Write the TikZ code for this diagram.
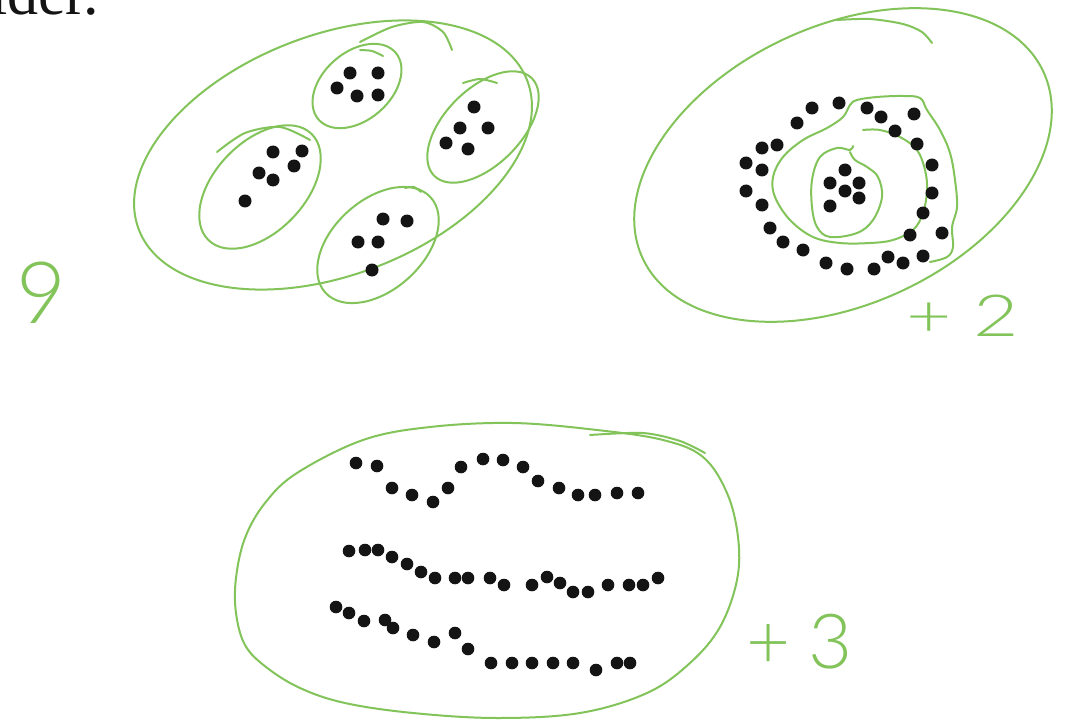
\documentclass[tikz,border=0pt]{standalone}
\usepackage{fontspec}
\setmainfont{Liberation Serif}
\IfFontExistsTF{Lato Light}{\newfontfamily\handfont{Lato Light}}{%
  \IfFontExistsTF{Lato Thin}{\newfontfamily\handfont{Lato Thin}}{%
    \newfontfamily\handfont{Liberation Sans}}}
\definecolor{penGreen}{RGB}{130,195,90}
\definecolor{inkBlack}{RGB}{20,20,20}
\begin{document}
\begin{tikzpicture}[x=1pt,y=-1pt,
  penline/.style={draw=penGreen, line width=2pt, line cap=round, line join=round},
  blob/.style={fill=inkBlack},
  hand/.style={text=penGreen, inner sep=0pt, anchor=base west}]
\useasboundingbox (0,0) rectangle (1086,722);
\fill[white] (0,0) rectangle (1086,722);

% cropped caption text at the top left (cut off in the reference too)
\node[anchor=base west, inner sep=0pt, text=inkBlack, font=\fontsize{62}{70}\selectfont] (caption) at (-10,15) {ider.};

% ---------- figure 1 : four blobs ----------
\draw[penline, rotate around={21:(333,155)}] (333,155) ellipse [x radius=208, y radius=120];
\draw[penline] plot[smooth] coordinates {(360,42) (392,27) (423,22) (443,32) (452,50)};
\draw[penline, rotate around={41:(357,86)}] (357,86) ellipse [x radius=51, y radius=34];
\draw[penline] plot[smooth] coordinates {(360,50) (372,51) (383,56)};
\draw[penline, rotate around={46:(260,187)}] (260,187) ellipse [x radius=74, y radius=45];
\draw[penline] plot[smooth] coordinates {(217,152) (245,133) (280,127) (310,140)};
\draw[penline, rotate around={45:(483,127)}] (483,127) ellipse [x radius=69, y radius=38];
\draw[penline] plot[smooth] coordinates {(463,83) (480,79) (497,83)};
\draw[penline, rotate around={42:(378,245)}] (378,245) ellipse [x radius=71, y radius=45];
\draw[penline] plot[smooth] coordinates {(405,188) (414,187) (421,192)};

\foreach \p in {(350,73),(378,73),(337,88),(357,96),(378,95),
                (273,152),(302,151),(294,166),(259,173),(273,180),(245,201),
                (474,107),(460,128),(488,128),(446,143),(468,149),
                (383,219),(407,221),(358,242),(378,242),(372,270)}
  \fill[blob] \p circle [radius=6.5];

% ---------- figure 2 : rings ----------
\draw[penline, rotate around={25:(843,165)}] (843,165) ellipse [x radius=221, y radius=139];
\draw[penline] plot[smooth] coordinates {(837,20) (870,19) (903,24) (922,32) (932,43)};
\draw[penline] plot[smooth, tension=0.6] coordinates {
  (863,130) (880,130) (900,137) (917,150) (925,170) (927,190) (923,213) (913,230)
  (893,240) (870,243) (840,243) (813,237) (790,220) (775,197) (773,177) (783,157)
  (803,140) (827,128) (843,117) (850,105) (857,100) (877,97) (903,96) (920,98)
  (927,110) (940,130) (950,153) (955,180) (957,207) (952,227) (953,247) (947,257) (930,262)};
\draw[penline] plot[smooth, tension=0.6] coordinates {
  (853,146) (850,150) (837,148) (820,157) (812,180) (812,207) (817,227) (830,237)
  (857,233) (873,220) (882,197) (878,177) (867,167) (855,160) (850,152)};

\foreach \p in {(845,170),(830,183),(859,183),(845,191),(859,198),(830,206),
                (839,103),(812,108),(797,123),(777,145),(762,148),(746,163),(762,170),
                (746,191),(762,205),(770,228),(783,242),(803,250),(826,263),(847,269),
                (874,269),(888,257),(903,263),(923,256),(910,235),(942,233),(923,213),
                (932,193),(932,165),(917,144),(895,131),(881,117),(867,108),(914,114)}
  \fill[blob] \p circle [radius=6.5];

% ---------- figure 3 : three wavy lines ----------
\draw[penline] plot[smooth cycle, tension=0.6] coordinates {
  (236,578) (245,538) (265,503) (297,473) (363,440) (430,427) (513,423) (597,430)
  (663,440) (703,457) (727,493) (738,537) (737,580) (720,627) (690,663) (647,693)
  (580,713) (497,718) (413,713) (345,703) (300,688) (266,667) (245,645) (236,613)};
\draw[penline] plot[smooth] coordinates {(590,435) (643,433) (680,441) (705,453)};

\foreach \p in {(356,463),(377,466),(392,488),(412,495),(433,502),(448,488),(461,467),
                (483,459),(503,460),(523,467),(538,481),(559,488),(578,495),(595,495),
                (617,493),(638,493),
                (349,551),(365,550),(378,550),(392,557),(407,564),(421,572),(435,578),
                (455,578),(468,578),(490,578),(504,585),(532,585),(547,577),(560,583),
                (573,592),(588,592),(608,585),(629,585),(643,585),(658,578),
                (336,607),(349,613),(364,621),(385,620),(393,628),(413,635),(434,642),
                (455,633),(468,649),(491,663),(512,663),(532,663),(553,663),(573,663),
                (596,670),(617,663),(630,663)}
  \fill[blob] \p circle [radius=6.3];

% ---------- handwritten labels ----------
\node[hand, font=\handfont\fontsize{86}{90}\selectfont] (labelA) at (16,323) {9};
\node[hand, xscale=1.35, font=\handfont\fontsize{58}{62}\selectfont] (labelB) at (906,336) {+\kern16pt 2};
\node[hand, font=\handfont\fontsize{76}{80}\selectfont] (labelC) at (746,668) {+\kern18pt 3};
\end{tikzpicture}
\end{document}
